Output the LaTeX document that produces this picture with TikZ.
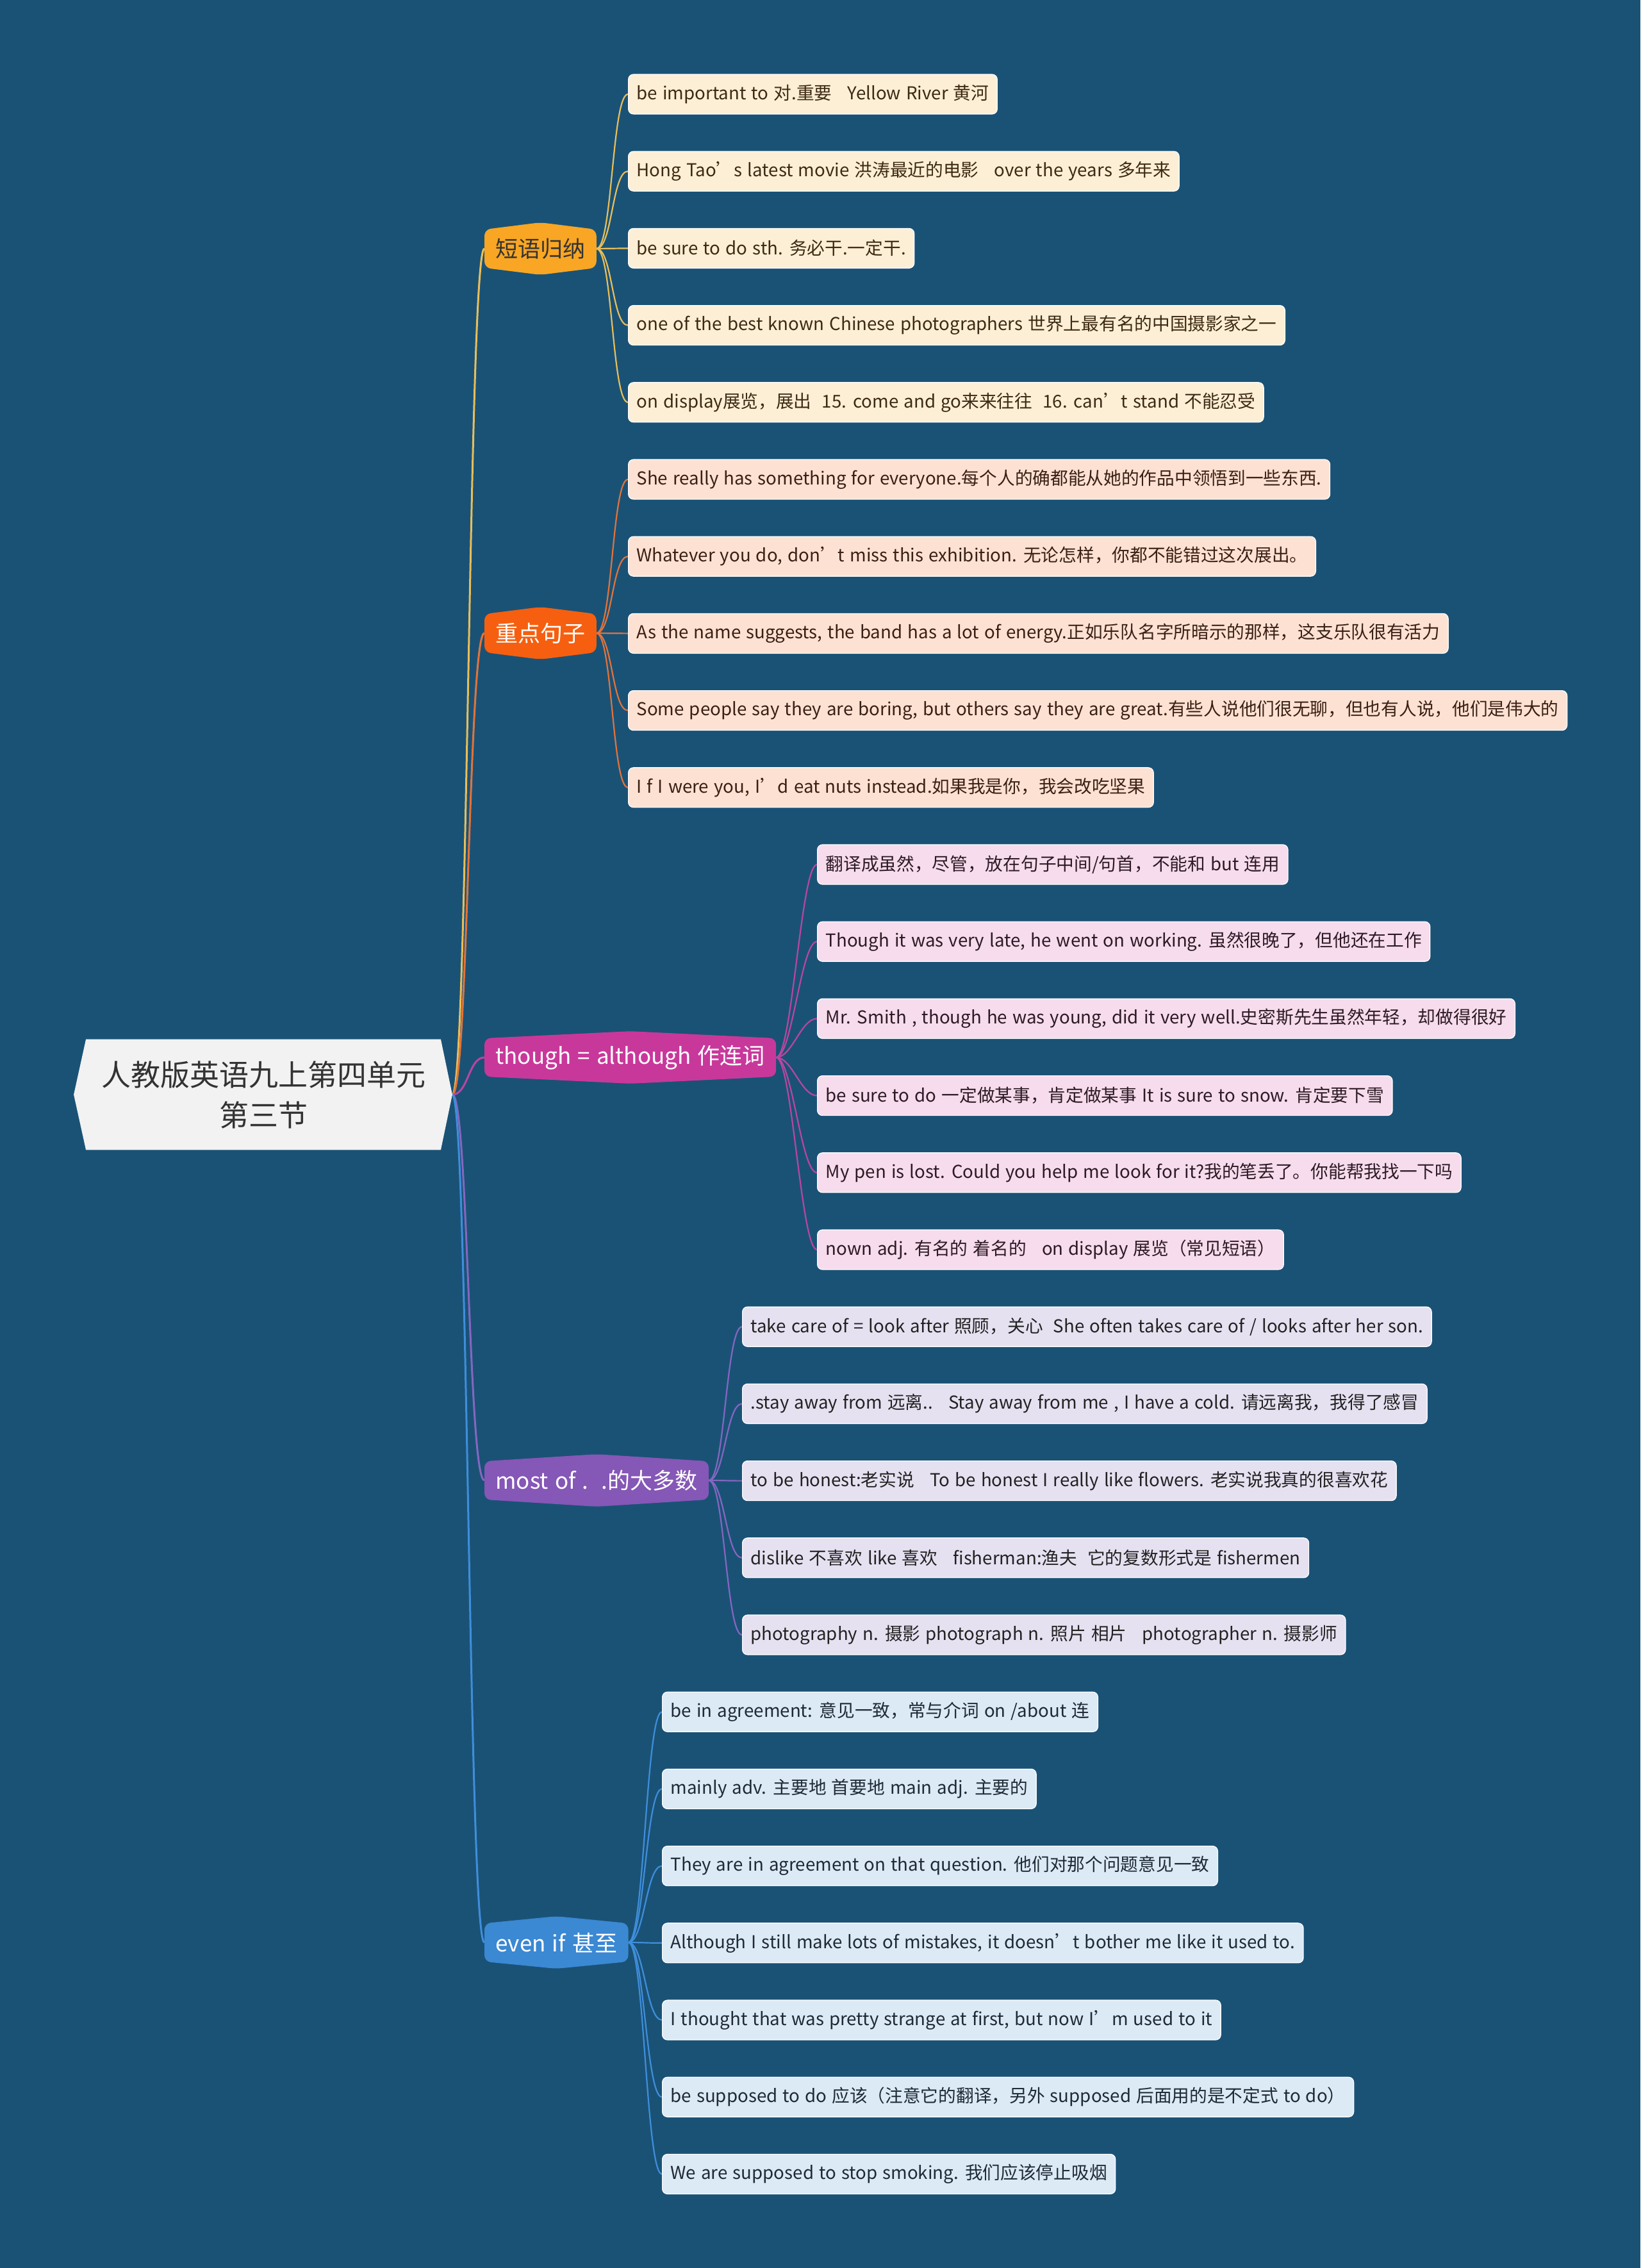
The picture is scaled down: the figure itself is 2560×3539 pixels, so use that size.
\documentclass[tikz,border=0pt]{standalone}
\usepackage{fontspec}
\setmainfont{Noto Sans CJK SC}[WordSpace=1.3]
\usetikzlibrary{calc}
\definecolor{bgc}{HTML}{1A5276}
\definecolor{rootfill}{HTML}{F2F2F2}
\definecolor{roottext}{HTML}{333333}
\definecolor{brA}{HTML}{F8A623}
\definecolor{brB}{HTML}{F65F0F}
\definecolor{brC}{HTML}{C8389B}
\definecolor{brD}{HTML}{8557B6}
\definecolor{brE}{HTML}{3B88D3}
\definecolor{lnA}{HTML}{E8BE5A}
\definecolor{lnB}{HTML}{E2733A}
\definecolor{lnC}{HTML}{B8469F}
\definecolor{lnD}{HTML}{8566C0}
\definecolor{lnE}{HTML}{3F8EDB}
\definecolor{lfA}{HTML}{FDEFD6}
\definecolor{lfB}{HTML}{FDE2D3}
\definecolor{lfC}{HTML}{F6DCEC}
\definecolor{lfD}{HTML}{E6E1F1}
\definecolor{lfE}{HTML}{DCEAF6}
\definecolor{txA}{HTML}{3E2A14}
\definecolor{txB}{HTML}{3B1F14}
\definecolor{txC}{HTML}{2E1A26}
\definecolor{txD}{HTML}{222222}
\definecolor{txE}{HTML}{1E2A36}
\newcommand\leaffont{\fontsize{13.85pt}{16pt}\selectfont}
\newcommand\brfont{\fontsize{17.5pt}{20pt}\selectfont}
\newcommand\rootfont{\fontsize{23pt}{31.5pt}\selectfont}
\newcommand\linkto[3]{\draw[#1] (#2) .. controls ($(#2)+(25,0)$) and ($(#3)+(-25,0)$) .. (#3);}
\newcommand\hexbranch[2]{\fill[#1, rounded corners=5pt] (#2.north west) -- ([yshift=5.5pt]#2.north) -- (#2.north east) -- (#2.south east) -- ([yshift=-5.5pt]#2.south) -- (#2.south west) -- cycle;}
\pgfdeclarelayer{bglayer}
\pgfdeclarelayer{shapelayer}
\pgfsetlayers{bglayer,shapelayer,main}
\tikzset{
  leafbox/.style={anchor=west, rounded corners=4pt, minimum height=31pt, inner xsep=6.5pt, inner ysep=0pt, font=\leaffont, draw=white, line width=0.6pt},
  leafA/.style={leafbox, fill=lfA, text=txA},
  leafB/.style={leafbox, fill=lfB, text=txB},
  leafC/.style={leafbox, fill=lfC, text=txC},
  leafD/.style={leafbox, fill=lfD, text=txD},
  leafE/.style={leafbox, fill=lfE, text=txE},
  brnode/.style={anchor=west, inner xsep=8.5pt, inner ysep=0pt, minimum height=29.5pt, font=\brfont},
  rootnode/.style={align=center, minimum width=276.5pt, minimum height=86pt, inner sep=0pt, font=\rootfont, text=roottext},
  mainln/.style={line width=1.5pt},
  subln/.style={line width=1.1pt}
}
\begin{document}
\begin{tikzpicture}[x=0.5pt,y=-0.5pt]
\begin{pgfonlayer}{bglayer}
\fill[bgc] (0,0) rectangle (2560,3539);
\end{pgfonlayer}
\useasboundingbox (0,0) rectangle (2560,3539);

% root
\node[rootnode] (root) at (411,1708) {人教版英语九上第四单元\\第三节};
\coordinate (rootR) at ([xshift=9pt]root.east);
\coordinate (rootL) at ([xshift=-9.5pt]root.west);

% branches
\node[brnode, text=roottext] (b1) at (756,388) {短语归纳};
\node[brnode, text=white] (b2) at (756,988) {重点句子};
\node[brnode, text=white] (b3) at (756,1650) {though = although 作连词};
\node[brnode, text=white] (b4) at (756,2310) {most of~.~~.的大多数};
\node[brnode, text=white] (b5) at (756,3031) {even if 甚至};

% group 1
\node[leafA] (g1a) at (980,147) {be important to 对.重要~~~Yellow River 黄河~};
\node[leafA] (g1b) at (980,267.2) {Hong Tao’s latest movie 洪涛最近的电影~~~over the years 多年来~};
\node[leafA] (g1c) at (980,387.4) {be sure to do sth. 务必干.一定干.};
\node[leafA] (g1d) at (980,507.6) {one of the best known Chinese photographers 世界上最有名的中国摄影家之一};
\node[leafA] (g1e) at (980,627.8) {on display展览，展出~~15. come and go来来往往~~16. can’t stand 不能忍受};

% group 2
\node[leafB] (g2a) at (980,748) {She really has something for everyone.每个人的确都能从她的作品中领悟到一些东西.};
\node[leafB] (g2b) at (980,868.2) {Whatever you do, don’t miss this exhibition. 无论怎样，你都不能错过这次展出。};
\node[leafB] (g2c) at (980,988.4) {As the name suggests, the band has a lot of energy.正如乐队名字所暗示的那样，这支乐队很有活力};
\node[leafB] (g2d) at (980,1108.6) {Some people say they are boring, but others say they are great.有些人说他们很无聊，但也有人说，他们是伟大的};
\node[leafB] (g2e) at (980,1228.8) {I f I were you, I’d eat nuts instead.如果我是你，我会改吃坚果};

% group 3
\node[leafC] (g3a) at (1275,1349) {翻译成虽然，尽管，放在句子中间/句首，不能和 but 连用};
\node[leafC] (g3b) at (1275,1469.2) {Though it was very late, he went on working. 虽然很晚了，但他还在工作};
\node[leafC] (g3c) at (1275,1589.4) {Mr. Smith , though he was young, did it very well.史密斯先生虽然年轻，却做得很好};
\node[leafC] (g3d) at (1275,1709.6) {be sure to do 一定做某事，肯定做某事 It is sure to snow. 肯定要下雪};
\node[leafC] (g3e) at (1275,1829.8) {My pen is lost. Could you help me look for it?我的笔丢了。你能帮我找一下吗};
\node[leafC] (g3f) at (1275,1950) {nown adj. 有名的 着名的~~~on display 展览（常见短语）};

% group 4
\node[leafD] (g4a) at (1158,2070.2) {take care of = look after 照顾，关心~~She often takes care of / looks after her son.};
\node[leafD] (g4b) at (1158,2190.4) {.stay away from 远离..~~~Stay away from me , I have a cold. 请远离我，我得了感冒};
\node[leafD] (g4c) at (1158,2310.6) {to be honest:老实说~~~To be honest I really like flowers. 老实说我真的很喜欢花};
\node[leafD] (g4d) at (1158,2430.8) {dislike 不喜欢 like 喜欢~~~fisherman:渔夫~~它的复数形式是 fishermen};
\node[leafD] (g4e) at (1158,2551) {photography n. 摄影 photograph n. 照片 相片~~~photographer n. 摄影师};

% group 5
\node[leafE] (g5a) at (1033,2671.2) {be in agreement: 意见一致，常与介词 on /about 连};
\node[leafE] (g5b) at (1033,2791.4) {mainly adv. 主要地 首要地 main adj. 主要的};
\node[leafE] (g5c) at (1033,2911.6) {They are in agreement on that question. 他们对那个问题意见一致};
\node[leafE] (g5d) at (1033,3031.8) {Although I still make lots of mistakes, it doesn’t bother me like it used to.};
\node[leafE] (g5e) at (1033,3152) {I thought that was pretty strange at first, but now I’m used to it};
\node[leafE] (g5f) at (1033,3272.2) {be supposed to do 应该（注意它的翻译，另外 supposed 后面用的是不定式 to do）};
\node[leafE] (g5g) at (1033,3392.4) {We are supposed to stop smoking. 我们应该停止吸烟};

\begin{pgfonlayer}{shapelayer}
% root to branches
\linkto{lnA,mainln}{rootR}{b1.west}
\linkto{lnB,mainln}{rootR}{b2.west}
\linkto{lnC,mainln}{rootR}{b3.west}
\linkto{lnD,mainln}{rootR}{b4.west}
\linkto{lnE,mainln}{rootR}{b5.west}
% branch to leaves
\foreach \l in {g1a,g1b,g1c,g1d,g1e}{\linkto{lnA,subln}{b1.east}{\l.west}}
\foreach \l in {g2a,g2b,g2c,g2d,g2e}{\linkto{lnB,subln}{b2.east}{\l.west}}
\foreach \l in {g3a,g3b,g3c,g3d,g3e,g3f}{\linkto{lnC,subln}{b3.east}{\l.west}}
\foreach \l in {g4a,g4b,g4c,g4d,g4e}{\linkto{lnD,subln}{b4.east}{\l.west}}
\foreach \l in {g5a,g5b,g5c,g5d,g5e,g5f,g5g}{\linkto{lnE,subln}{b5.east}{\l.west}}
% shapes
\fill[rootfill] (root.north west) -- (root.north east) -- (rootR) -- (root.south east) -- (root.south west) -- (rootL) -- cycle;
\hexbranch{brA}{b1}
\hexbranch{brB}{b2}
\hexbranch{brC}{b3}
\hexbranch{brD}{b4}
\hexbranch{brE}{b5}
\end{pgfonlayer}
\end{tikzpicture}
\end{document}
